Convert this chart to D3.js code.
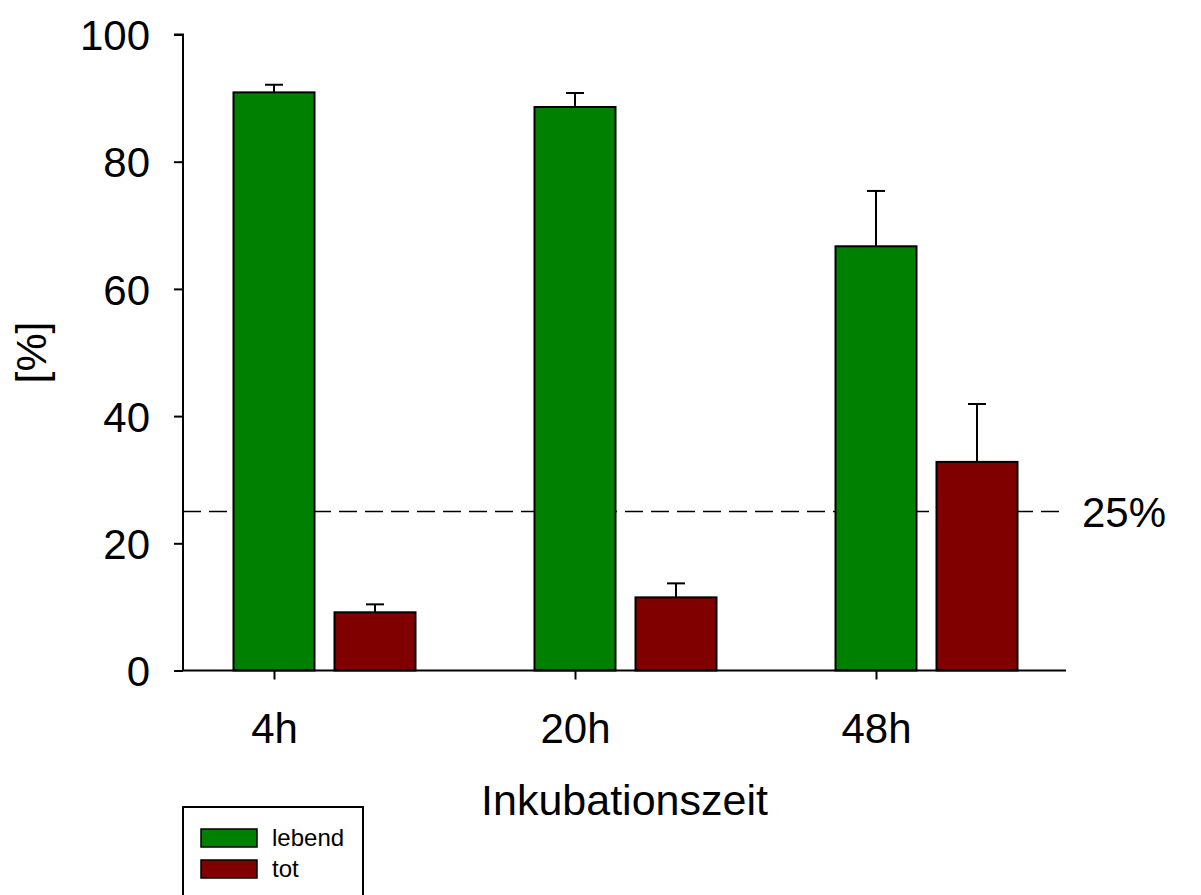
<!DOCTYPE html>
<html>
<head>
<meta charset="utf-8">
<script src="https://cdn.jsdelivr.net/npm/d3@7/dist/d3.min.js"></script>
<style>
  body { margin: 0; background: #fff; }
  svg { display: block; font-family: Arial, "Liberation Sans", sans-serif; }
</style>
</head>
<body>
<svg width="1201" height="895"></svg>
<script>
// data
const categories = ["4h", "20h", "48h"];
const lebend = [90.9, 88.6, 66.7];
const lebendErr = [1.2, 2.2, 8.7];
const tot = [9.15, 11.5, 32.8];
const totErr = [1.25, 2.2, 9.1];
const yTicks = [0, 20, 40, 60, 80, 100];
const refLine = 25;

const series = [
  { name: "lebend", values: lebend, err: lebendErr, color: "#008000", offset: 0 },
  { name: "tot", values: tot, err: totErr, color: "#800000", offset: 1 }
];

const svg = d3.select("svg");

const axisLeft = 183, axisRight = 1066;
const y = d3.scaleLinear().domain([0, 100]).range([670.5, 34.5]);
// tick sits under the first bar of each group
const x = d3.scalePoint().domain(categories).range([274, 876]);
const barW = 81, barStep = 101;

// dashed 25% line (behind bars)
svg.append("line")
  .attr("x1", axisLeft).attr("x2", axisRight - 4)
  .attr("y1", y(refLine)).attr("y2", y(refLine))
  .attr("stroke", "#000").attr("stroke-width", 1.5)
  .attr("stroke-dasharray", "18,8");

svg.append("text")
  .attr("x", 1082).attr("y", y(refLine) + 15)
  .attr("font-size", 42)
  .text(refLine + "%");

// bars
series.forEach(s => {
  const g = svg.append("g");
  g.selectAll("rect")
    .data(s.values)
    .join("rect")
    .attr("x", (d, i) => x(categories[i]) - barW / 2 + s.offset * barStep)
    .attr("y", d => y(d))
    .attr("width", barW)
    .attr("height", d => y(0) - y(d))
    .attr("fill", s.color)
    .attr("stroke", "#000")
    .attr("stroke-width", 2);

  // error bars, upper only
  s.values.forEach((d, i) => {
    const cx = x(categories[i]) + s.offset * barStep;
    g.append("line")
      .attr("x1", cx).attr("x2", cx)
      .attr("y1", y(d)).attr("y2", y(d + s.err[i]))
      .attr("stroke", "#000").attr("stroke-width", 2);
    g.append("line")
      .attr("x1", cx - 9).attr("x2", cx + 9)
      .attr("y1", y(d + s.err[i])).attr("y2", y(d + s.err[i]))
      .attr("stroke", "#000").attr("stroke-width", 2);
  });
});

// y axis
const yAxis = svg.append("g")
  .attr("transform", `translate(${axisLeft},0)`)
  .call(d3.axisLeft(y).tickValues(yTicks).tickSize(9).tickPadding(24));
yAxis.select(".domain").attr("stroke-width", 2).attr("d", `M-9,${y(100)}H0V${y(0)}`);
yAxis.selectAll(".tick line").attr("stroke-width", 2);
yAxis.selectAll(".tick text")
  .attr("font-size", 42).attr("font-family", "Arial, 'Liberation Sans', sans-serif")
  .attr("fill", "#000").attr("dy", "0.36em");

// x axis
const xAxis = svg.append("g")
  .attr("transform", `translate(0,${y(0)})`)
  .call(d3.axisBottom(x).tickSize(9).tickPadding(34));
xAxis.select(".domain").attr("stroke-width", 2).attr("d", `M${axisLeft},0H${axisRight}`);
xAxis.selectAll(".tick line").attr("stroke-width", 2);
xAxis.selectAll(".tick text")
  .attr("font-size", 42).attr("font-family", "Arial, 'Liberation Sans', sans-serif")
  .attr("fill", "#000");

// axis titles
svg.append("text")
  .attr("x", (axisLeft + axisRight) / 2).attr("y", 815)
  .attr("text-anchor", "middle").attr("font-size", 43)
  .text("Inkubationszeit");

svg.append("text")
  .attr("transform", `translate(46,${(y(0) + y(100)) / 2}) rotate(-90)`)
  .attr("text-anchor", "middle").attr("font-size", 43)
  .text("[%]");

// legend
const legend = svg.append("g").attr("transform", "translate(183,807)");
legend.append("rect")
  .attr("width", 180).attr("height", 110)
  .attr("fill", "#fff").attr("stroke", "#000").attr("stroke-width", 2);
const items = legend.selectAll("g.item")
  .data(series)
  .join("g")
  .attr("class", "item")
  .attr("transform", (d, i) => `translate(18,${22 + i * 31})`);
items.append("rect")
  .attr("width", 56).attr("height", 18)
  .attr("fill", d => d.color)
  .attr("stroke", "#000").attr("stroke-width", 1.5);
items.append("text")
  .attr("x", 71).attr("y", 17)
  .attr("font-size", 24)
  .text(d => d.name);
</script>
</body>
</html>
